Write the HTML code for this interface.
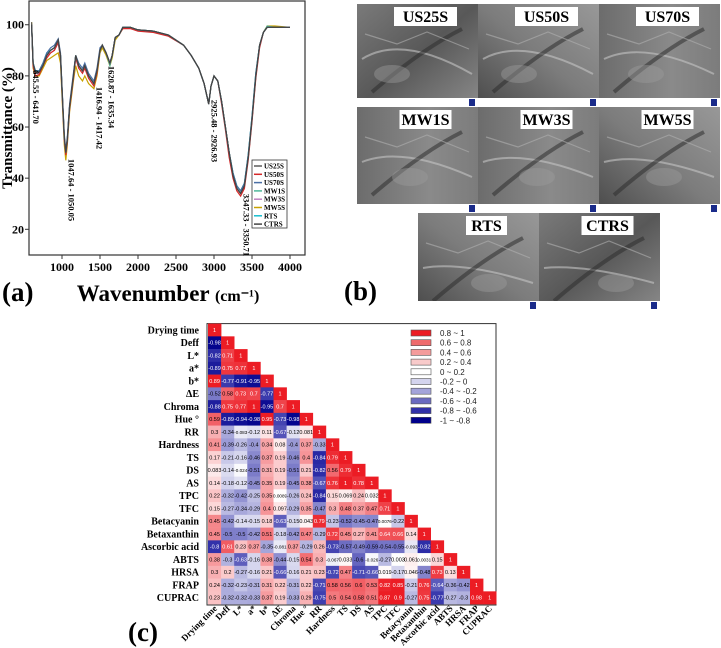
<!DOCTYPE html>
<html><head><meta charset="utf-8"><style>
html,body{margin:0;padding:0;background:#fff;}
svg{display:block;}
.serif{font-family:"Liberation Serif",serif;font-weight:bold;}
.sans{font-family:"Liberation Sans",sans-serif;}
</style></head><body>
<svg id="fig" width="721" height="648" viewBox="0 0 721 648" xmlns="http://www.w3.org/2000/svg">
<defs>
<linearGradient id="g1" x1="0" y1="0" x2="1" y2="1"><stop offset="0" stop-color="#7a7a7a"/><stop offset="0.5" stop-color="#585858"/><stop offset="1" stop-color="#8a8a8a"/></linearGradient>
<linearGradient id="g2" x1="0" y1="0" x2="1" y2="0"><stop offset="0" stop-color="#6c6c6c"/><stop offset="0.6" stop-color="#8a8a8a"/><stop offset="1" stop-color="#7c7c7c"/></linearGradient>
<linearGradient id="g3" x1="0" y1="1" x2="1" y2="0"><stop offset="0" stop-color="#4a4a4a"/><stop offset="0.5" stop-color="#7c7c7c"/><stop offset="1" stop-color="#989898"/></linearGradient>
</defs>
<g id="ftir"></g>
<g id="sem"></g>
<g id="heat"></g>
</svg>
<script>
// ---------- FTIR data ----------
const wavenumbers=[600,620,650,700,750,800,850,900,950,980,1000,1030,1050,1070,1100,1150,1180,1220,1270,1300,1350,1420,1460,1500,1530,1580,1630,1660,1700,1750,1800,1900,2000,2200,2400,2600,2700,2800,2870,2930,2960,3000,3050,3100,3150,3200,3250,3300,3350,3400,3450,3500,3550,3600,3650,3700,3800,4000];
const tUS25S=[101,85,81,81.5,84,88,90,91,94,88,75,56,50,55,68,80,88,84,82,84,80,77,82,90,92,89,85,88,95,96,99,99,98,97.5,96,92,88,83,77,69,76,80,78,70,60,50,41,36,34,37,48,63,80,92,97,99,99,99];
const tUS50S=[100,84,80,80.5,84,87,89,90,93,87,74,55,49,54,67,79,87,83,81,83,79,76,81,90,92,89,85,88,95,96,98.5,98.5,97.5,97,95.5,92,88,83,77,69,76,80,78,69,59,48,40,35,33,36,47,62,79,91,97,99,99,99];
const tUS70S=[100,85,82,82,85,89,91,92,94.5,89,76,57,51,56,69,81,88,85,83,85,81,78,83,91,92,89,85,88,95,96,99,99,98,97.5,96,92,88,83,77,69,76,80,78,70,60,50,42,37,35,38,49,64,81,92,97,99,99,99];
const tMW1S=[100,85,82,82,85,89,90,91,94,88,75,56,50,55,68,80,88,84,82,84,80,77,82,90,92,89,84,88,95,96,99,99,98,97.5,96,92,88,83,77,69,76,80,78,70,60,50,42,37,35,38,49,64,81,92,97,99.5,99,99];
const tMW3S=[100,84,81,81,84,88,89,90,93,88,75,55,50,55,68,80,87,84,82,84,80,77,82,90,92,89,85,88,95,96,99,99,98,97.5,96,92,88,83,77,69,76,80,78,70,60,50,41,36,34,37,48,63,80,92,97,99,99,99];
const tMW5S=[101,83,80,80,83,86,87,88,89,85,72,53,47,53,66,78,84,80,78,80,77,75,80,89,91,88,84,87,94,96,98.5,99,98,97.5,96,92,88,83,77,69,76,80,78,70,60,50,41,36,34,37,48,63,80,92,97,99.5,99.5,99];
const tRTS=[100,85,82,82,85,89,90,91,94,88,75,56,50,55,68,80,88,84,82,84,80,77,82,90,92,89,85,88,95,96,99,99,98,97.5,96,92,88,83,77,69,76,80,78,70,60,50,42,37,35,38,49,64,81,92,97,99,99,99];
const tCTRS=[100,85,81,81.5,84,88,90,91,94,88,75,56,50,55,68,80,88,84,82,84,80,77,82,90,92,89,85,88,95,96,99,99,98,97.5,96,92,88,83,77,69,76,80,78,70,60,50,41,36,34,37,48,63,80,92,97,99,99,99];
const ftirNames=["US25S","US50S","US70S","MW1S","MW3S","MW5S","RTS","CTRS"];
const xTicks=[1000,1500,2000,2500,3000,3500,4000];
const yTicks=[20,40,60,80,100];
const peakLabels=["645.55 - 641.70","1047.64 - 1050.05","1416.94 - 1417.42","1620.87 - 1635.34","2925.48 - 2926.93","3347.33 - 3350.71"];
const peakPos=[645,1047,1416,1628,2926,3349];

// ---------- Heatmap data ----------
const vars=["Drying time","Deff","L*","a*","b*","ΔE","Chroma","Hue °","RR","Hardness","TS","DS","AS","TPC","TFC","Betacyanin","Betaxanthin","Ascorbic acid","ABTS","HRSA","FRAP","CUPRAC"];
const r0=[1];
const r1=[-0.98,1];
const r2=[-0.82,0.71,1];
const r3=[-0.89,0.75,0.77,1];
const r4=[0.89,-0.77,-0.91,-0.95,1];
const r5=[-0.52,0.58,0.73,0.7,-0.77,1];
const r6=[-0.88,0.75,0.77,1,-0.95,0.7,1];
const r7=[0.59,-0.89,-0.94,-0.98,0.95,-0.73,-0.98,1];
const r8=[0.3,-0.34,-0.083,-0.12,0.11,-0.67,-0.12,0.081,1];
const r9=[0.41,-0.39,-0.26,-0.4,0.34,0.08,-0.4,0.37,-0.33,1];
const r10=[0.17,-0.21,-0.16,-0.46,0.37,0.19,-0.46,0.4,-0.84,0.79,1];
const r11=[0.083,-0.14,-0.024,-0.51,0.31,0.19,-0.51,0.21,-0.82,0.56,0.79,1];
const r12=[0.14,-0.18,-0.12,-0.45,0.35,0.19,-0.45,0.38,-0.67,0.76,1,0.78,1];
const r13=[0.22,-0.32,-0.42,-0.25,0.35,0.0089,-0.26,0.24,-0.84,0.15,0.069,0.24,0.032,1];
const r14=[0.15,-0.27,-0.34,-0.29,0.4,0.097,-0.29,0.35,-0.47,0.3,0.48,0.37,0.47,0.71,1];
const r15=[0.45,-0.42,-0.14,-0.15,0.18,-0.63,-0.15,0.043,0.79,-0.23,-0.52,-0.45,-0.47,0.0076,-0.22,1];
const r16=[0.45,-0.5,-0.5,-0.42,0.51,-0.18,-0.42,0.47,-0.29,0.72,0.45,0.27,0.41,0.64,0.66,0.14,1];
const r17=[-0.8,0.61,0.23,0.37,-0.35,-0.081,0.37,-0.29,0.26,-0.73,-0.57,-0.49,-0.59,-0.54,-0.55,-0.093,-0.82,1];
const r18=[0.38,-0.3,-0.63,-0.16,0.38,-0.44,-0.15,0.54,0.3,-0.067,0.033,-0.6,-0.026,-0.27,0.003,0.061,0.0031,0.15,1];
const r19=[0.3,0.2,-0.27,-0.16,0.21,-0.66,-0.16,0.21,0.23,-0.72,0.47,-0.71,-0.66,0.019,-0.17,0.046,-0.48,0.73,0.13,1];
const r20=[0.24,-0.32,-0.23,-0.31,0.31,0.22,-0.31,0.22,-0.71,0.58,0.56,0.6,0.53,0.82,0.85,-0.21,0.76,-0.64,-0.36,-0.42,1];
const r21=[0.23,-0.32,-0.32,-0.33,0.37,0.19,-0.33,0.29,-0.75,0.5,0.54,0.58,0.51,0.87,0.9,-0.27,0.75,-0.77,-0.27,-0.3,0.98,1];
const legendLabels=["0.8  ~ 1","0.6  ~ 0.8","0.4  ~ 0.6","0.2  ~ 0.4","0     ~ 0.2","-0.2 ~ 0","-0.4 ~ -0.2","-0.6 ~ -0.4","-0.8 ~ -0.6","-1   ~ -0.8"];

const NS="http://www.w3.org/2000/svg";
function mk(tag,attrs,parent,text){const e=document.createElementNS(NS,tag);for(const k in attrs)e.setAttribute(k,attrs[k]);if(text!==undefined)e.textContent=text;parent.appendChild(e);return e;}

// ---------- FTIR chart ----------
const F=document.getElementById('ftir');
const xs=w=>62+(w-1000)*0.076;
const ys=t=>229.3-(t-20)*2.557;
const fr=mk('rect',{x:29,y:1,width:276,height:254,fill:'#fff',stroke:'#333','stroke-width':1.2},F);

xTicks.forEach(v=>{
  const t=mk('line',{x1:xs(v),x2:xs(v),y1:255,y2:259,stroke:'#333'},F);
  
  const l=mk('text',{x:xs(v),y:271,'text-anchor':'middle','font-size':12,class:'serif'},F,String(v));
  
});
yTicks.forEach(v=>{
  const t=mk('line',{x1:25,x2:29,y1:ys(v),y2:ys(v),stroke:'#333'},F);
  
  const l=mk('text',{x:24,y:ys(v)+4,'text-anchor':'end','font-size':12,class:'serif'},F,String(v));
  
});
const yt=mk('text',{x:0,y:0,transform:'translate(12,128) rotate(-90)','text-anchor':'middle','font-size':15,class:'serif'},F,'Transmittance (%)');

const xt=mk('text',{x:168,y:301,'text-anchor':'middle',class:'serif'},F);

mk('tspan',{'font-size':23},xt,'Wavenumber ');mk('tspan',{'font-size':16},xt,'(cm⁻¹)');
const pa=mk('text',{x:2,y:301,'font-size':27,class:'serif'},F,'(a)');

const seriesData=[tUS25S,tUS50S,tUS70S,tMW1S,tMW3S,tMW5S,tRTS,tCTRS];
const colors=["#5a5a5a","#d62728","#4a6fa5","#4fb89a","#c080c0","#c8a200","#17becf","#444444"];
const drawOrder=[5,4,3,1,6,2,0,7];
drawOrder.forEach(i=>{
  const d=wavenumbers.map((w,j)=>(j?'L':'M')+xs(w).toFixed(1)+','+ys(seriesData[i][j]).toFixed(1)).join(' ');
  const p=mk('path',{d:d,fill:'none',stroke:colors[i],'stroke-width':1.2},F);
  
});
const peakY=[97,190,118,97,131,225];
peakLabels.forEach((s,i)=>{
  const px=xs(peakPos[i])+ (i===0?-2:(i===3?-1:3));
  const t=mk('text',{x:0,y:0,transform:`translate(${px},${peakY[i]}) rotate(90)`,'text-anchor':'middle','font-size':8.5,class:'serif'},F,s);
  
});
const lg=mk('g',{},F);
mk('rect',{x:252,y:160,width:35,height:68,fill:'#fff',stroke:'#333','stroke-width':0.8},lg);
ftirNames.forEach((n,i)=>{
  const y=166+i*8.3;
  const e=mk('g',{},lg);
  mk('line',{x1:254,x2:262,y1:y,y2:y,stroke:colors[i],'stroke-width':1.5},e);
  mk('text',{x:264,y:y+2.5,'font-size':7,class:'serif'},e,n);
});

// ---------- SEM panel ----------
const S=document.getElementById('sem');
const semTiles=[["US25S",357,4,121,103,'g1'],["US50S",478,4,121,103,'g3'],["US70S",599,4,121,103,'g2'],
["MW1S",357,107,121,106,'g2'],["MW3S",478,107,121,106,'g2'],["MW5S",599,107,121,106,'g3'],
["RTS",418,213,121,97,'g3'],["CTRS",539,213,121,97,'g1']];
semTiles.forEach((t,k)=>{
  const g=mk('g',{},S);
  mk('rect',{x:t[1],y:t[2],width:t[3],height:t[4],fill:'url(#'+t[5]+')'},g);
  const a=t[1],b=t[2];
  mk('path',{d:`M${a+5},${b+55} Q${a+45},${b+30+k*3} ${a+115},${b+70}`,stroke:'#c4c4c4','stroke-width':2,fill:'none',opacity:0.6},g);
  mk('path',{d:`M${a+15},${b+88} Q${a+65},${b+45} ${a+105},${b+25}`,stroke:'#2e2e2e','stroke-width':4,fill:'none',opacity:0.55},g);
  mk('path',{d:`M${a+8},${b+30} L${a+40},${b+40} L${a+70},${b+28} L${a+112},${b+45}`,stroke:'#b0b0b0','stroke-width':1.2,fill:'none',opacity:0.6},g);
  mk('ellipse',{cx:a+35+k*6,cy:b+70,rx:18,ry:9,fill:'#9c9c9c',opacity:0.45},g);
  mk('rect',{x:a,y:b+t[4]-9,width:t[3],height:9,fill:'#fff'},g);
  mk('rect',{x:a+t[3]-9,y:b+t[4]-8,width:6,height:7,fill:'#1a2b8a'},g);
  const w=t[0].length*11+8;
  mk('rect',{x:a+t[3]/2-w/2+8,y:b+3,width:w,height:19,fill:'#fff'},g);
  mk('text',{x:a+t[3]/2+8,y:b+18,'text-anchor':'middle','font-size':16,class:'serif'},g,t[0]);
});
const pb=mk('text',{x:344,y:300,'font-size':27,class:'serif'},S,'(b)');


// ---------- Heatmap ----------
const H=document.getElementById('heat');
const rows=[r0,r1,r2,r3,r4,r5,r6,r7,r8,r9,r10,r11,r12,r13,r14,r15,r16,r17,r18,r19,r20,r21];
const x0=208,y0=323.6,cw=13.1,ch=12.75;
const binColors=["#00008b","#3030a8","#6a6ac0","#a4a4da","#d4d4ee","#ffffff","#f8caca","#f49c9c","#ef6a6c","#ec1c24"];
function mix(c1,c2,f){return 'rgb('+c1.map((v,i)=>Math.round(v+(c2[i]-v)*f)).join(',')+')';}
function colorOf(v){
  if(v>=0){const f=Math.min(v/0.85,1);return mix([255,255,255],[236,28,36],f);}
  const a=-v;
  if(a<=0.8)return mix([255,255,255],[50,50,170],a/0.8);
  return mix([50,50,170],[0,0,139],Math.min((a-0.8)/0.2,1));
}
const hf=mk('rect',{x:207,y:y0,width:496-207,height:605-y0,fill:'#fff',stroke:'#333','stroke-width':1},H);

rows.forEach((row,i)=>{
  row.forEach((v,j)=>{
    const c=mk('rect',{x:x0+j*cw,y:y0+i*ch,width:cw+0.3,height:ch+0.3,fill:colorOf(v)},H);
    
    const tx=mk('text',{x:x0+j*cw+cw/2,y:y0+i*ch+ch/2+2,'text-anchor':'middle','font-size':(String(v).length>5?4.6:5.5),fill:(Math.abs(v)>0.6?'#fff':'#000'),class:'sans'},H,String(v));
    
  });
  const rl=mk('text',{x:199,y:y0+i*ch+ch/2+3.5,'text-anchor':'end','font-size':10,class:'serif'},H,vars[i]);
  
  const cx=x0+i*cw+cw/2+3;
  const cl=mk('text',{x:0,y:0,transform:`translate(${cx},609) rotate(-45)`,'text-anchor':'end','font-size':9,class:'serif'},H,vars[i]);
  
});
const hl=mk('g',{},H);
legendLabels.forEach((s,i)=>{
  const y=330+i*9.7;
  const e=mk('g',{},hl);
  mk('rect',{x:411,y:y,width:20,height:6,fill:binColors[9-i],stroke:'#555','stroke-width':0.6},e);
  mk('text',{x:440,y:y+6,'font-size':8,fill:'#222',class:'sans'},e,s);
});
const pc=mk('text',{x:128,y:641,'font-size':27,class:'serif'},H,'(c)');

</script>
</body></html>
